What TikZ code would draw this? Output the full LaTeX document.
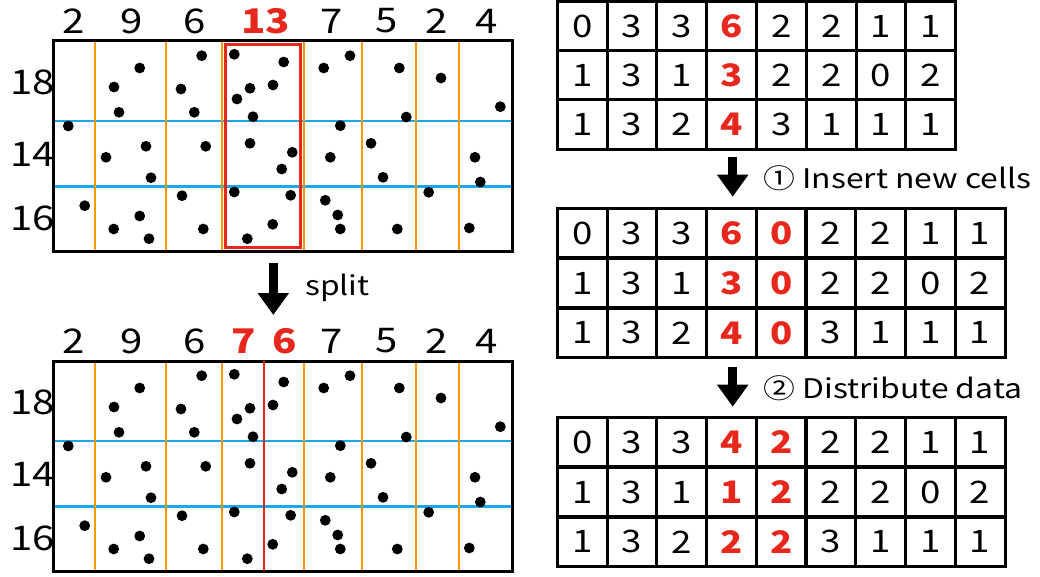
\documentclass[tikz,border=0pt]{standalone}
\usepackage{fontspec}
\setmainfont{Noto Sans CJK JP}[FakeStretch=1.18]
\usetikzlibrary{arrows.meta}
\definecolor{gorange}{HTML}{FF9900}
\definecolor{gred}{HTML}{E8271C}
\definecolor{gblue}{HTML}{1AA7EE}
\begin{document}
\begin{tikzpicture}[x=1pt,y=-1pt,
  frame/.style={line width=3pt},
  colline/.style={gorange,line width=2pt},
  rowline/.style={gblue,line width=2.5pt},
  lbl/.style={inner sep=0pt,font=\fontsize{34}{34}\selectfont},
  hotlbl/.style={inner sep=0pt,text=gred,font=\fontsize{34}{34}\selectfont\bfseries},
  cell/.style={draw,line width=3pt,inner sep=0pt,minimum width=49.8pt,minimum height=49.4pt,font=\fontsize{31}{31}\selectfont},
  hot/.style={text=gred,font=\fontsize{31}{31}\selectfont\bfseries},
  note/.style={inner sep=0pt,anchor=west,font=\fontsize{27}{27}\selectfont},
  bigarrow/.style={line width=9pt,-{Triangle[width=30pt,length=22pt]}},
  t1c4/.style={hot},
  t2c4/.style={hot}, t2c5/.style={hot},
  t3c4/.style={hot}, t3c5/.style={hot}
]
\useasboundingbox (0,0) rectangle (1040,577);

% ---------- left grids ----------
\foreach \oy in {0,320}{
  \draw[rowline] (53,121+\oy) -- (512,121+\oy);
  \draw[rowline] (53,186.7+\oy) -- (512,186.7+\oy);
  \foreach \x in {95.3,166,222,304,361.7,415.7,459}
    \draw[colline] (\x,41+\oy) -- (\x,251+\oy);
  \foreach \x/\y in {68.3/126,84.7/205.7,
    139.7/68,114/87,119/112.3,146/146.3,106/157.3,151/177.7,139.7/216,113.7/229,149/238.7,
    201.7/55.7,181/89,194.3/112.3,205.7/146.3,182/195.7,203.3/229,
    234.3/54.3,283.7/62,250/88.3,273/85,237/99,253/116.7,250/143.3,292.3/152.3,281.7/169,234.3/192,290.7/195.3,272.7/224.3,247.3/238.7,
    323.7/68,350/55.7,340.3/125.7,330.3/157.3,325.3/200.3,337.7/215,340.3/229,
    399.3/68,406.3/117,371/143.3,383/177.3,397.3/229,
    441/78,428.7/192.3,
    500.3/106.7,475/157.3,480.3/182,469.3/228}
    \fill (\x,\y+\oy) circle[radius=5.4];
  \draw[frame] (53,41+\oy) rectangle (512,251+\oy);
  \node[lbl] (l18-\oy) at (33,82+\oy) {18};
  \node[lbl] (l14-\oy) at (33,154+\oy) {14};
  \node[lbl] (l16-\oy) at (33,218+\oy) {16};
  \foreach \x/\t [count=\i] in {74/2,132/9,195/6,332/7,387/5,437/2,487/4}
    \node[lbl] (top\i-\oy) at (\x,21+\oy) {\t};
}
\draw[gred,line width=3pt] (225.7,45) rectangle (300.7,247.7);
\node[hotlbl] (top13) at (265.7,21) {13};
\draw[gred,line width=2pt] (263.7,360.7) -- (263.7,570.7);
\node[hotlbl] (top7) at (243.3,341) {7};
\node[hotlbl] (top6) at (284.3,341) {6};

\coordinate (sa) at (273.3,262.7);
\coordinate (sb) at (273.3,315);
\draw[bigarrow] (sa) -- (sb);
\node[note] (split) at (305,288) {split};

% ---------- tables ----------
\foreach \row [count=\r] in {{0,3,3,6,2,2,1,1},{1,3,1,3,2,2,0,2},{1,3,2,4,3,1,1,1}}
  \foreach \v [count=\c] in \row
    \node[cell,t1c\c/.try] (t1-\r-\c) at (557.3+49.8*\c-24.9, 1.5+49.2*\r-24.6) {\v};
\foreach \row [count=\r] in {{0,3,3,6,0,2,2,1,1},{1,3,1,3,0,2,2,0,2},{1,3,2,4,0,3,1,1,1}}
  \foreach \v [count=\c] in \row
    \node[cell,t2c\c/.try] (t2-\r-\c) at (557.3+49.74*\c-24.87, 208.3+49.8*\r-24.9) {\v};
\foreach \row [count=\r] in {{0,3,3,4,2,2,2,1,1},{1,3,1,1,2,2,2,0,2},{1,3,2,2,2,3,1,1,1}}
  \foreach \v [count=\c] in \row
    \node[cell,t3c\c/.try] (t3-\r-\c) at (557.3+49.74*\c-24.87, 417.3+49.8*\r-24.9) {\v};

\coordinate (a1s) at (732.7,156.7);
\coordinate (a1e) at (732.7,196.7);
\draw[bigarrow] (a1s) -- (a1e);
\node[note] (step1) at (763.3,178) {① Insert new cells};
\coordinate (a2s) at (732.7,366.7);
\coordinate (a2e) at (732.7,406.7);
\draw[bigarrow] (a2s) -- (a2e);
\node[note] (step2) at (763.3,388.3) {② Distribute data};
\end{tikzpicture}
\end{document}
